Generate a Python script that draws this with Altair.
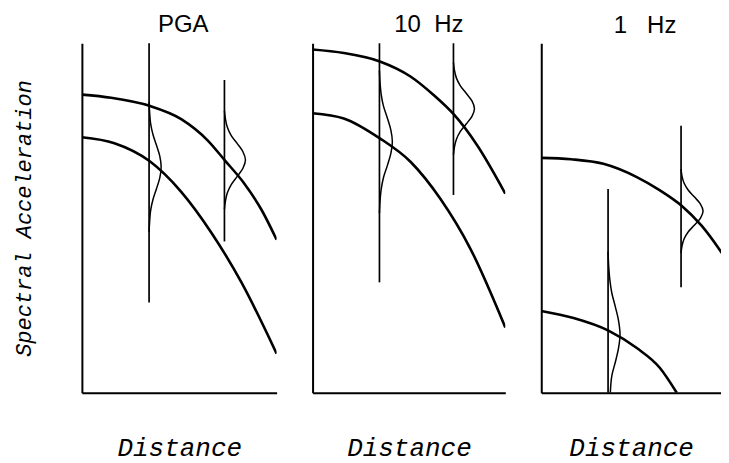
import altair as alt
import pandas as pd

# ---------------- data (panel units 0-100) ----------------
PANEL_TITLES = ["PGA", "10\u00a0\u00a0Hz", "1\u00a0\u00a0\u00a0Hz"]
X_LABEL = "Distance"
Y_LABEL = "Spectral Acceleration"

# Panel 1: PGA
PGA_UPPER_X = [0, 15.0, 34.7, 51.0, 64.8, 73.4, 82.8, 92.3, 100]
PGA_UPPER_Y = [85.3, 84.4, 82.1, 78.3, 72.1, 66.5, 60.3, 52.3, 43.8]
PGA_LOWER_X = [0, 16.7, 34.7, 51.0, 66.5, 82.0, 100]
PGA_LOWER_Y = [73.1, 71.4, 66.3, 57.5, 45.8, 31.5, 11.2]
PGA_RULE_X = [34.5, 73.2]
PGA_RULE_TOP = [100, 89.5]
PGA_RULE_BOTTOM = [25.8, 43.3]
PGA_G1_Y = [83.2, 80.1, 77.0, 73.9, 70.8, 67.7, 64.6, 61.5, 58.4, 55.3, 52.2, 49.1, 46.0]
PGA_G1_X = [34.5, 34.8, 35.3, 36.5, 38.3, 40.0, 40.7, 40.0, 38.3, 36.5, 35.3, 34.8, 34.5]
PGA_G2_Y = [80.7, 78.4, 76.0, 73.6, 71.3, 68.95, 66.6, 64.25, 61.9, 59.55, 57.2, 54.85, 52.5]
PGA_G2_X = [73.2, 73.7, 74.7, 76.7, 79.8, 82.7, 84.0, 82.7, 79.8, 76.7, 74.7, 73.7, 73.2]

# Panel 2: 10 Hz
HZ10_UPPER_X = [0, 16.2, 34.9, 50.8, 62.8, 73.2, 85.3, 100]
HZ10_UPPER_Y = [98.2, 97.2, 94.8, 90.5, 85.2, 79.7, 70.9, 57.0]
HZ10_LOWER_X = [0, 16.2, 34.9, 50.8, 66.3, 81.9, 100]
HZ10_LOWER_Y = [80.0, 78.5, 72.8, 66.1, 55.5, 41.2, 18.7]
HZ10_RULE_X = [34.7, 73.1]
HZ10_RULE_TOP = [100, 100]
HZ10_RULE_BOTTOM = [31.6, 56.6]
HZ10_G1_Y = [92.2, 88.8, 85.4, 82.0, 78.6, 75.2, 71.8, 68.4, 65.0, 61.6, 58.2, 54.8, 51.4]
HZ10_G1_X = [34.7, 35.0, 35.6, 36.8, 38.8, 40.6, 41.4, 40.6, 38.8, 36.8, 35.6, 35.0, 34.7]
HZ10_G2_Y = [94.5, 92.3, 90.1, 87.9, 85.7, 83.5, 81.3, 79.1, 76.9, 74.7, 72.5, 70.3, 68.1]
HZ10_G2_X = [73.1, 73.6, 74.6, 76.6, 79.7, 82.7, 84.0, 82.7, 79.7, 76.6, 74.6, 73.6, 73.1]

# Panel 3: 1 Hz
HZ1_UPPER_X = [0, 16.0, 33.3, 51.2, 63.6, 75.2, 85.9, 100.2]
HZ1_UPPER_Y = [67.2, 66.8, 65.5, 61.7, 57.9, 53.5, 47.8, 37.3]
HZ1_LOWER_X = [0, 17.3, 36.0, 51.2, 63.6, 72.6]
HZ1_LOWER_Y = [23.4, 21.4, 17.8, 12.8, 7.1, 0]
HZ1_RULE_X = [35.8, 74.9]
HZ1_RULE_TOP = [58.3, 76.4]
HZ1_RULE_BOTTOM = [0, 30.2]
HZ1_G1_Y = [40.4, 36.45, 32.5, 28.55, 24.6, 20.65, 16.7, 12.75, 8.8, 4.85, 0]
HZ1_G1_X = [35.8, 36.1, 36.7, 37.8, 39.7, 41.4, 42.2, 41.4, 39.7, 37.8, 37.0]
HZ1_G2_Y = [64.0, 62.0, 60.0, 58.0, 56.0, 54.0, 52.0, 50.0, 48.0, 46.0, 44.0, 42.0, 40.0]
HZ1_G2_X = [74.9, 75.4, 76.5, 78.7, 82.1, 85.3, 86.7, 85.3, 82.1, 78.7, 76.5, 75.4, 74.9]

PANELS = [
    dict(curves=[(PGA_UPPER_X, PGA_UPPER_Y), (PGA_LOWER_X, PGA_LOWER_Y)],
         rules=(PGA_RULE_X, PGA_RULE_TOP, PGA_RULE_BOTTOM),
         gauss=[(PGA_G1_X, PGA_G1_Y), (PGA_G2_X, PGA_G2_Y)],
         width=195, xmax=100, dx=4),
    dict(curves=[(HZ10_UPPER_X, HZ10_UPPER_Y), (HZ10_LOWER_X, HZ10_LOWER_Y)],
         rules=(HZ10_RULE_X, HZ10_RULE_TOP, HZ10_RULE_BOTTOM),
         gauss=[(HZ10_G1_X, HZ10_G1_Y), (HZ10_G2_X, HZ10_G2_Y)],
         width=193, xmax=100, dx=20),
    dict(curves=[(HZ1_UPPER_X, HZ1_UPPER_Y), (HZ1_LOWER_X, HZ1_LOWER_Y)],
         rules=(HZ1_RULE_X, HZ1_RULE_TOP, HZ1_RULE_BOTTOM),
         gauss=[(HZ1_G1_X, HZ1_G1_Y), (HZ1_G2_X, HZ1_G2_Y)],
         width=180, xmax=96.3, dx=14),
]

HEIGHT = 350


def series_frame(pairs):
    rows = []
    for s, (xs, ys) in enumerate(pairs):
        for i, (x, y) in enumerate(zip(xs, ys)):
            rows.append({"s": s, "i": i, "x": x, "y": y})
    return pd.DataFrame(rows)


def make_panel(k, p):
    xscale = alt.Scale(domain=[0, p["xmax"]], nice=False, zero=False)
    yscale = alt.Scale(domain=[0, 100], nice=False, zero=False)
    ytitle = Y_LABEL if k == 0 else None
    X = alt.X("x:Q", scale=xscale, title=X_LABEL)
    Y = alt.Y("y:Q", scale=yscale, title=ytitle)

    curves = alt.Chart(series_frame(p["curves"])).mark_line(
        color="black", strokeWidth=2.6, interpolate="monotone", clip=True
    ).encode(x=X, y=Y, detail="s:N", order="i:Q")

    gauss = alt.Chart(series_frame(p["gauss"])).mark_line(
        color="black", strokeWidth=1.5, interpolate="catmull-rom", clip=True
    ).encode(x=X, y=Y, detail="s:N", order="i:Q")

    rx, rt, rb = p["rules"]
    rules = alt.Chart(pd.DataFrame({"x": rx, "top": rt, "bottom": rb})).mark_rule(
        color="black", strokeWidth=1.7
    ).encode(
        x=alt.X("x:Q", scale=xscale, title=X_LABEL),
        y=alt.Y("top:Q", scale=yscale, title=ytitle),
        y2="bottom:Q",
    )

    return alt.layer(curves, rules, gauss).properties(
        width=p["width"],
        height=HEIGHT,
        title=alt.TitleParams(
            text=PANEL_TITLES[k], font="Liberation Sans", fontSize=24,
            fontWeight="normal", color="black", anchor="middle",
            baseline="alphabetic", dx=p["dx"], offset=-14,
        ),
    )


chart = alt.hconcat(*[make_panel(k, p) for k, p in enumerate(PANELS)], spacing=36).properties(
    padding={"left": 5, "top": 5, "right": 0, "bottom": 5}
).configure_view(strokeWidth=0).configure_axis(
    labels=False, ticks=False, grid=False,
    domainColor="black", domainWidth=2,
    titleFont="Liberation Mono", titleFontStyle="italic",
    titleFontWeight="normal", titleColor="black",
).configure_axisX(titleFontSize=26, titlePadding=42).configure_axisY(
    titleFontSize=22, titlePadding=46
)

chart.save("out.html", embed_options={"renderer": "svg", "actions": False})
